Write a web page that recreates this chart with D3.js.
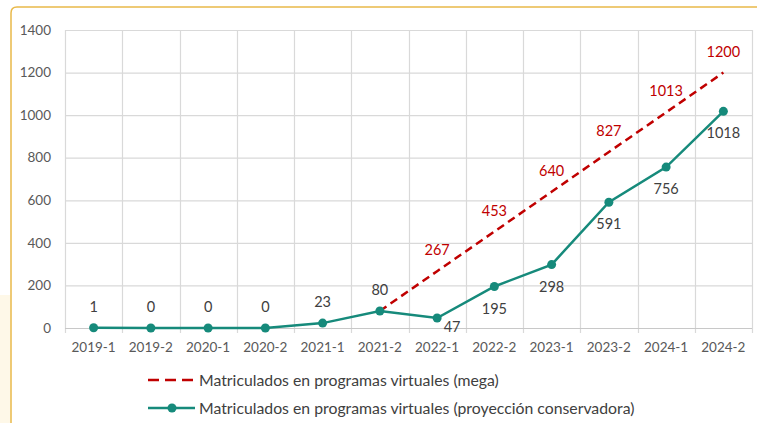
<!DOCTYPE html>
<html>
<head>
<meta charset="utf-8">
<script src="https://cdn.jsdelivr.net/npm/d3@7"></script>
<style>
  html, body { margin: 0; padding: 0; background: #ffffff; }
  svg { display: block; font-family: Lato, "Open Sans", sans-serif; }
</style>
</head>
<body>
<svg id="chart" width="757" height="423"></svg>
<script>
const categories = ["2019-1","2019-2","2020-1","2020-2","2021-1","2021-2","2022-1","2022-2","2023-1","2023-2","2024-1","2024-2"];
const conservadora = [1, 0, 0, 0, 23, 80, 47, 195, 298, 591, 756, 1018];
const mega = [null, null, null, null, null, 80, 267, 453, 640, 827, 1013, 1200];
const megaLabelShown = [false, false, false, false, false, false, true, true, true, true, true, true];
// label placement for conservative series: "above", "below", "belowright"
const consLabelPos = ["above","above","above","above","above","above","belowright","below","below","below","below","below"];
const yTicks = [0, 200, 400, 600, 800, 1000, 1200, 1400];
const legendNames = ["Matriculados en programas virtuales (mega)", "Matriculados en programas virtuales (proyección conservadora)"];

const teal = "#168a7b";
const red = "#c00000";
const grid = "#d9d9d9";

const svg = d3.select("#chart");

// frame and side strip
svg.append("rect").attr("x", 0).attr("y", 295).attr("width", 10.5).attr("height", 128).attr("fill", "#fef8e8");
svg.append("path")
  .attr("d", "M11,423 L11,13 Q11,7 17,7 L757,7")
  .attr("fill", "none").attr("stroke", "#e9b949").attr("stroke-width", 1.5);

const x = d3.scaleBand().domain(categories).range([65, 752]);
const y = d3.scaleLinear().domain([0, 1400]).range([328, 30]);
const cx = d => x(d) + x.bandwidth() / 2;

// horizontal grid
svg.append("g").selectAll("line").data(yTicks.filter(t => t > 0)).join("line")
  .attr("x1", 65).attr("x2", 752)
  .attr("y1", d => y(d) + 0.5).attr("y2", d => y(d) + 0.5)
  .attr("stroke", grid).attr("stroke-width", 1.2);

// vertical grid at category boundaries
const bounds = categories.map(c => x(c)).concat([x(categories[categories.length - 1]) + x.bandwidth()]);
svg.append("g").selectAll("line").data(bounds).join("line")
  .attr("x1", d => Math.round(d) + 0.5).attr("x2", d => Math.round(d) + 0.5)
  .attr("y1", y(1400)).attr("y2", y(0) + 5)
  .attr("stroke", grid).attr("stroke-width", 1.2);

// x axis line
svg.append("line").attr("x1", 65).attr("x2", 752).attr("y1", y(0) + 0.5).attr("y2", y(0) + 0.5)
  .attr("stroke", "#c8c8c8").attr("stroke-width", 1.2);

// y tick labels
svg.append("g").selectAll("text").data(yTicks).join("text")
  .attr("x", 51).attr("y", d => y(d)).attr("dy", "0.35em")
  .attr("text-anchor", "end").attr("fill", "#595959").attr("font-size", 13.5)
  .text(d => d);

// x tick labels
svg.append("g").selectAll("text").data(categories).join("text")
  .attr("x", d => cx(d)).attr("y", 347).attr("dy", "0.35em")
  .attr("text-anchor", "middle").attr("fill", "#595959").attr("font-size", 13.5)
  .text(d => d);

// mega dashed line
const megaPts = categories.map((c, i) => ({c, v: mega[i], i})).filter(d => d.v !== null);
const line = d3.line().x(d => cx(d.c)).y(d => y(d.v));
svg.append("path").datum(megaPts).attr("d", line)
  .attr("fill", "none").attr("stroke", red).attr("stroke-width", 2.5)
  .attr("stroke-dasharray", "8,5");

// conservative line
const consPts = categories.map((c, i) => ({c, v: conservadora[i], i}));
svg.append("path").datum(consPts).attr("d", line)
  .attr("fill", "none").attr("stroke", teal).attr("stroke-width", 2.5);
svg.append("g").selectAll("circle").data(consPts).join("circle")
  .attr("cx", d => cx(d.c)).attr("cy", d => y(d.v)).attr("r", 4.5).attr("fill", teal);

// mega labels
svg.append("g").selectAll("text").data(megaPts.filter(d => megaLabelShown[d.i])).join("text")
  .attr("x", d => cx(d.c)).attr("y", d => y(d.v) - 21).attr("dy", "0.35em")
  .attr("text-anchor", "middle").attr("fill", red).attr("font-size", 14.5)
  .text(d => d.v);

// conservative labels
svg.append("g").selectAll("text").data(consPts).join("text")
  .attr("x", d => cx(d.c) + (consLabelPos[d.i] === "belowright" ? 15 : 0))
  .attr("y", d => y(d.v) + (consLabelPos[d.i] === "above" ? -21 : consLabelPos[d.i] === "below" ? 22 : 9))
  .attr("dy", "0.35em")
  .attr("text-anchor", "middle").attr("fill", "#404040").attr("font-size", 14.5)
  .text(d => d.v);

// legend
const lg = svg.append("g");
lg.append("line").attr("x1", 148).attr("x2", 195).attr("y1", 380).attr("y2", 380)
  .attr("stroke", red).attr("stroke-width", 2.5).attr("stroke-dasharray", "11,6");
lg.append("line").attr("x1", 148).attr("x2", 195).attr("y1", 408).attr("y2", 408)
  .attr("stroke", teal).attr("stroke-width", 2.5);
lg.append("circle").attr("cx", 172).attr("cy", 408).attr("r", 4.5).attr("fill", teal);
lg.selectAll("text.lt").data(legendNames).join("text")
  .attr("class", "lt")
  .attr("x", 199).attr("y", (d, i) => 380 + i * 28).attr("dy", "0.35em")
  .attr("fill", "#404040").attr("font-size", 15.8)
  .text(d => d);
</script>
</body>
</html>
